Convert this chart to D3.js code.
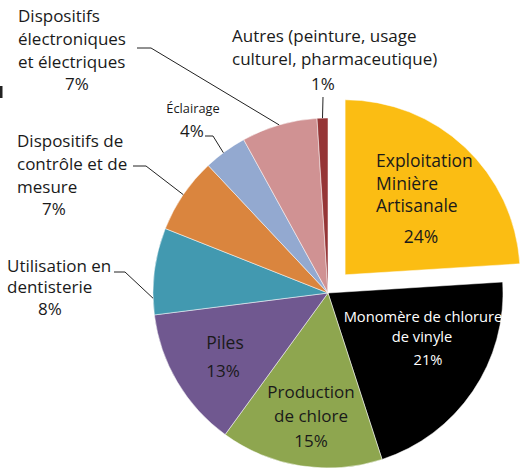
<!DOCTYPE html>
<html>
<head>
	<meta charset="utf-8">
	<title>Pie</title>
	<script src="https://d3js.org/d3.v7.min.js" charset="utf-8"></script>
	<style>
		body { margin: 0; background: #fff; }
		text { font-family: "Open Sans", sans-serif; fill: #1a1a1a; }
	</style>
</head>
<body>
	<svg width="522" height="468"></svg>
	<script>
		// data
		const categories = ["Exploitation Minière Artisanale", "Monomère de chlorure de vinyle",
			"Production de chlore", "Piles", "Utilisation en dentisterie",
			"Dispositifs de contrôle et de mesure", "Éclairage",
			"Dispositifs électroniques et électriques",
			"Autres (peinture, usage culturel, pharmaceutique)"];
		const values = [24, 21, 15, 13, 8, 7, 4, 7, 1];
		const colors = ["#fbbd13", "#000000", "#8ea64f", "#705890", "#4299b0",
			"#da853e", "#93a9d0", "#d09293", "#953536"];

		const cx = 328, cy = 293, radius = 175;
		const explode = 25;

		const svg = d3.select('svg');
		const chart = svg.append('g')
			.attr('transform', `translate(${cx}, ${cy})`);

		const pie = d3.pie().sort(null).value(function(d) { return d; });
		const arcs = pie(values);
		const arc = d3.arc().innerRadius(0).outerRadius(radius);

		chart.selectAll('path')
			.data(arcs)
			.enter()
			.append('path')
			.attr('d', arc)
			.style('fill', function(d, i) { return colors[i]; })
			.style('stroke', '#fff')
			.style('stroke-width', 0.5)
			.attr('transform', function(d, i) {
				if (i != 0) return null;
				const a = (d.startAngle + d.endAngle) / 2;
				return `translate(${explode * Math.sin(a)}, ${-explode * Math.cos(a)})`;
			});

		// text lines per slice: [text, x, y, anchor, size]
		const labels = [
			{ fill: "#1a1a1a", lines: [["Exploitation", 376, 167, "start", 17.5], ["Minière", 376, 190, "start", 17.5], ["Artisanale", 376, 212, "start", 17.5], ["24%", 421, 243, "middle", 17.5]] },
			{ fill: "#fff", lines: [["Monomère de chlorure", 423, 322, "middle", 14.7], ["de vinyle", 422, 342, "middle", 14.7], ["21%", 428, 365, "middle", 14.7]] },
			{ fill: "#1a1a1a", lines: [["Production", 311, 398, "middle", 17], ["de chlore", 311, 422, "middle", 17], ["15%", 311, 447, "middle", 17]] },
			{ fill: "#1a1a1a", lines: [["Piles", 225, 349, "middle", 17.5], ["13%", 223, 377, "middle", 17]] },
			{ fill: "#1a1a1a", lines: [["Utilisation en", 7, 272, "start", 17], ["dentisterie", 7, 293, "start", 17], ["8%", 50, 315, "middle", 17]] },
			{ fill: "#1a1a1a", lines: [["Dispositifs de", 17, 147, "start", 17], ["contrôle et de", 17, 170, "start", 17], ["mesure", 17, 193, "start", 17], ["7%", 54, 215, "middle", 17]] },
			{ fill: "#1a1a1a", lines: [["Éclairage", 193, 113, "middle", 12.8], ["4%", 192, 137, "middle", 17]] },
			{ fill: "#1a1a1a", lines: [["Dispositifs", 18, 22, "start", 17], ["électroniques", 18, 45, "start", 17], ["et électriques", 18, 68, "start", 17], ["7%", 77, 90, "middle", 17]] },
			{ fill: "#1a1a1a", lines: [["Autres (peinture, usage", 232, 42, "start", 17], ["culturel, pharmaceutique)", 232, 65, "start", 17], ["1%", 323, 90, "middle", 17]] }
		];

		labels.forEach(function(lab) {
			svg.append('g').selectAll('text')
				.data(lab.lines)
				.enter()
				.append('text')
				.attr('x', function(d) { return d[1]; })
				.attr('y', function(d) { return d[2]; })
				.attr('text-anchor', function(d) { return d[3]; })
				.style('font-size', function(d) { return d[4] + 'px'; })
				.style('fill', lab.fill)
				.text(function(d) { return d[0]; });
		});

		// leader lines: slice index, start, bend, position along the slice
		const leaders = [
			{ i: 4, start: [114, 272], bend: [125, 272], t: 0.19 },
			{ i: 5, start: [133, 166], bend: [146, 166], t: 0.5 },
			{ i: 6, start: [205, 136], bend: [213, 136], t: 0.45 },
			{ i: 7, start: [137, 48], bend: [151, 48], t: 0.5 },
			{ i: 8, start: [323, 97], bend: [323, 97], t: 0.5 }
		];

		leaders.forEach(function(l) {
			const d = arcs[l.i];
			const a = d.startAngle + (d.endAngle - d.startAngle) * l.t;
			const end = [cx + radius * Math.sin(a), cy - radius * Math.cos(a)];
			svg.append('path')
				.attr('d', d3.line()([l.start, l.bend, end]))
				.style('fill', 'none')
				.style('stroke', '#222')
				.style('stroke-width', 1);
		});

		// little cut-off glyph at the left edge
		svg.append('rect')
			.attr('x', 0).attr('y', 86)
			.attr('width', 2.5).attr('height', 12)
			.style('fill', '#222');
	</script>
</body>
</html>
